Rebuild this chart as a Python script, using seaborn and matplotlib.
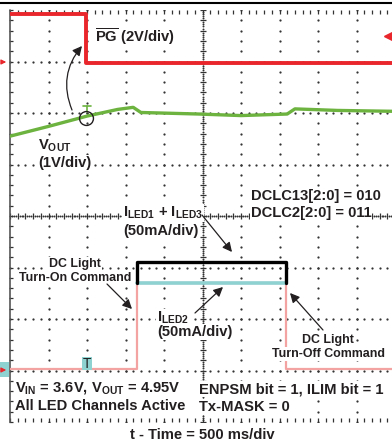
import numpy as np
import pandas as pd
import matplotlib
matplotlib.use("Agg")
import matplotlib.pyplot as plt
import seaborn as sns
from matplotlib.patches import Rectangle
from matplotlib.lines import Line2D

# ---------------- data (x: time in divisions of 500 ms, y: screen divisions) -------------
pg_t = [0.0, 1.98, 1.98, 10.2]
pg_v = [7.93, 7.93, 6.98, 6.98]

vout_t = [0.0, 1.0, 2.0, 2.8, 3.2, 3.4, 4.9, 6.0, 7.2, 7.4, 8.5, 10.2]
vout_v = [5.55, 5.74, 5.94, 6.07, 6.11, 6.01, 5.98, 5.95, 5.98, 6.08, 6.05, 6.03]

led_on_t = 3.30
led_off_t = 7.16
led_zero = 1.03
iled13_level = 3.11
iled2_level = 2.70

iled2_t = [0.0, led_on_t, led_on_t, led_off_t, led_off_t, 10.2]
iled2_v = [led_zero, led_zero, iled2_level, iled2_level, led_zero, led_zero]
iled2_hi_t = [led_on_t, led_off_t]
iled2_hi_v = [iled2_level, iled2_level]
iled13_t = [led_on_t, led_on_t, led_off_t, led_off_t]
iled13_v = [iled2_level, iled13_level, iled13_level, iled2_level]

n_xdiv = 10
n_ydiv = 8

# ---------------- style ----------------
sns.set_theme(style="white")
plt.rcParams["font.family"] = ["Liberation Sans", "DejaVu Sans"]
plt.rcParams["font.weight"] = "bold"
plt.rcParams["mathtext.fontset"] = "custom"
for k in ["rm", "bf", "it", "sf"]:
    plt.rcParams["mathtext." + k] = "Liberation Sans:bold"
plt.rcParams["mathtext.default"] = "rm"

W, H = 392, 443
fig = plt.figure(figsize=(W / 100, H / 100), dpi=100)
fig.patch.set_facecolor("white")
L, T, R, B = 10, 10, 395, 422
ax = fig.add_axes([L / W, (H - B) / H, (R - L) / W, (B - T) / H])
ax.set_xlim(0, n_xdiv)
ax.set_ylim(0, n_ydiv)
ax.set_axis_off()

def X(px):
    return (px - L) / ((R - L) / n_xdiv)

def Y(py):
    return (B - py) / ((B - T) / n_ydiv)

TXT = "#231f20"
GRID = "#333333"

# ---------------- graticule ----------------
minor_x = np.arange(0, n_xdiv + 0.001, 0.2)
minor_y = np.arange(0, n_ydiv + 0.001, 0.2)
gx, gy = [], []
for xv in range(1, n_xdiv):
    if xv == 5:
        continue
    gx += [xv] * len(minor_y)
    gy += list(minor_y)
for yv in range(1, n_ydiv):
    if yv == 4:
        continue
    gx += list(minor_x)
    gy += [yv] * len(minor_x)
ax.scatter(gx, gy, s=2.6, c=GRID, linewidths=0, zorder=1)
# centre axes with tick marks
ax.scatter(np.full(len(minor_y), 5), minor_y, s=22, marker="_", c=GRID,
           linewidths=0.9, zorder=1)
ax.scatter(np.full(len(minor_y) * 4, 5),
           np.concatenate([minor_y + d for d in (0.04, 0.08, 0.12, 0.16)]),
           s=2.0, c=GRID, linewidths=0, zorder=1)
ax.scatter(minor_x, np.full(len(minor_x), 4), s=22, marker="|", c=GRID,
           linewidths=0.9, zorder=1)
ax.scatter(np.concatenate([minor_x + d for d in (0.05, 0.1, 0.15)]),
           np.full(len(minor_x) * 3, 4), s=2.0, c=GRID, linewidths=0, zorder=1)
# top / bottom edges
ax.scatter(minor_x, np.full(len(minor_x), n_ydiv - 0.04), s=8, marker="|", c=GRID,
           linewidths=0.9, zorder=1, clip_on=False)
ax.scatter(minor_x, np.full(len(minor_x), 0.04), s=8, marker="|", c=GRID,
           linewidths=0.9, zorder=1, clip_on=False)
# left edge
ax.plot([0, 0], [0, n_ydiv], color="#555555", lw=1.2, zorder=2, clip_on=False)
ax.scatter(np.full(len(minor_y), 0.03), minor_y, s=8, marker="_", c=GRID,
           linewidths=0.9, zorder=1, clip_on=False)

# top frame line
fig.add_artist(Line2D([0, 1], [1 - 2.5 / H, 1 - 2.5 / H], color="black", lw=1.5))

# ---------------- traces ----------------
sns.lineplot(x=iled2_t, y=iled2_v, estimator=None, sort=False, ax=ax,
             color="#f4a3a3", lw=1.6, zorder=3)
sns.lineplot(x=iled2_hi_t, y=iled2_hi_v, estimator=None, sort=False, ax=ax,
             color="#8fd2d2", lw=2.6, zorder=4)
sns.lineplot(x=iled13_t, y=iled13_v, estimator=None, sort=False, ax=ax,
             color="black", lw=2.4, zorder=5)
sns.lineplot(x=vout_t, y=vout_v, estimator=None, sort=False, ax=ax,
             color="#6cb33f", lw=2.4, zorder=4)
sns.lineplot(x=pg_t, y=pg_v, estimator=None, sort=False, ax=ax,
             color="#e8262b", lw=2.8, zorder=4)
ax.set_xlim(0, n_xdiv)
ax.set_ylim(0, n_ydiv)
ax.set_axis_off()

# green cursor mark and circle
ax.plot([X(83), X(91)], [Y(106), Y(106)], color="#6cb33f", lw=1.2, zorder=5)
ax.plot([X(87), X(87)], [Y(106), Y(112)], color="#6cb33f", lw=1.2, zorder=5)
ax.plot([X(86)], [Y(118)], marker="o", mfc="none", mec="#231f20", ms=10, mew=1.0,
        zorder=6)

# scope markers
ax.annotate("", xy=(X(9), Y(62)), xytext=(X(-1), Y(62)),
            arrowprops=dict(arrowstyle="-|>", color="#e8262b", lw=0.9,
                            mutation_scale=7), annotation_clip=False)
ax.plot([X(388)], [Y(36)], marker="<", ms=6, color="#e8262b", clip_on=False, zorder=6)
ax.add_patch(Rectangle((X(0), Y(377)), X(9) - X(0), Y(362) - Y(377),
                       facecolor="#8fd2d2", edgecolor="none", clip_on=False, zorder=5))
ax.annotate("", xy=(X(9), Y(370)), xytext=(X(0), Y(370)),
            arrowprops=dict(arrowstyle="-|>", color="#e8262b", lw=0.9,
                            mutation_scale=7), annotation_clip=False, zorder=6)
ax.add_patch(Rectangle((X(82), Y(370)), X(91.5) - X(82), Y(357) - Y(370),
                       facecolor="#8fd2d2", edgecolor="none", zorder=6))
ax.text(X(86.8), Y(363.5), "T", ha="center", va="center", fontsize=10,
        fontweight="normal", color="#222222", zorder=7)

# ---------------- annotations ----------------
FS = 10.6
FS2 = 8.9

def txt(px, py, s, ha="left", fs=FS, bg=True):
    kw = {}
    if bg:
        kw["bbox"] = dict(facecolor="white", edgecolor="none", pad=0.5)
    ax.text(X(px), Y(py), s, ha=ha, va="baseline", fontsize=fs, color=TXT,
            fontweight="bold", zorder=8, **kw)

txt(95, 42, r"$\overline{\mathrm{PG}}$ (2V/div)")
txt(38, 150, r"V$_{\mathrm{OUT}}$")
txt(38, 167, "(1V/div)")
txt(123, 217, r"I$_{\mathrm{LED1}}$ + I$_{\mathrm{LED3}}$")
txt(123, 235, "(50mA/div)")
txt(251, 200, "DCLC13[2:0] = 010")
txt(251, 217, "DCLC2[2:0] = 011")
txt(75, 267, "DC Light", ha="center", fs=FS2)
txt(75, 281, "Turn-On Command", ha="center", fs=FS2)
txt(157, 322, r"I$_{\mathrm{LED2}}$")
txt(157, 336, "(50mA/div)")
txt(328, 343, "DC Light", ha="center", fs=FS2)
txt(328, 357, "Turn-Off Command", ha="center", fs=FS2)
txt(15, 392, r"V$_{\mathrm{IN}}$ = 3.6V, V$_{\mathrm{OUT}}$ = 4.95V")
txt(15, 410, "All LED Channels Active")
txt(199, 393, "ENPSM bit = 1, ILIM bit = 1")
txt(199, 411, "Tx-MASK = 0")
txt(202.5, 439, "t - Time = 500 ms/div", ha="center", bg=False)

arrow_kw = dict(arrowstyle="-|>", color=TXT, lw=0.9, mutation_scale=14)

def arrow(p0, p1, rad=0.0):
    ax.annotate("", xy=(X(p1[0]), Y(p1[1])), xytext=(X(p0[0]), Y(p0[1])),
                arrowprops=dict(connectionstyle=f"arc3,rad={rad}", shrinkA=0,
                                shrinkB=0, **arrow_kw),
                annotation_clip=False, zorder=8)

arrow((72, 110), (82, 46), rad=-0.3)
arrow((202, 215), (232, 252))
arrow((107, 284), (132, 309))
arrow((195, 313), (223, 287))
arrow((323, 330), (290, 293))

fig.savefig("out.png", dpi=100, facecolor="white")
